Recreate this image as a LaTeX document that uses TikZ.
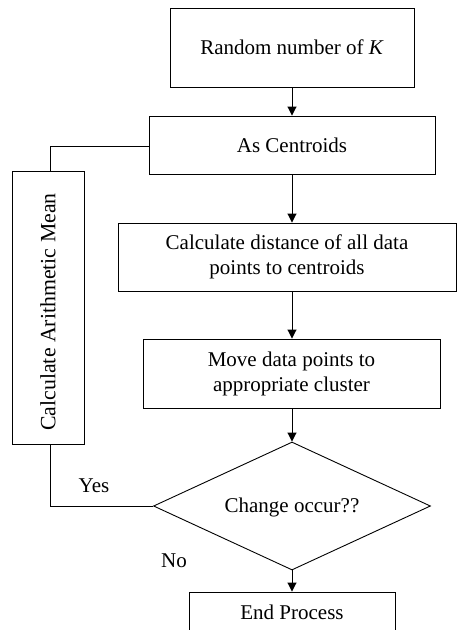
\documentclass[tikz,border=0pt]{standalone}
\usepackage{fontspec}
\setmainfont{Liberation Serif}
\usetikzlibrary{arrows.meta,shapes.geometric}
\begin{document}
\begin{tikzpicture}[x=1pt,y=-1pt,
  every node/.style={font=\fontsize{21}{25}\selectfont},
  box/.style={draw,line width=0.9pt,rectangle,inner sep=0pt,align=center},
  dec/.style={draw,line width=0.9pt,diamond,inner sep=0pt,minimum width=277pt,minimum height=128pt},
  conn/.style={line width=0.9pt},
  arr/.style={line width=0.9pt,-{Triangle[width=9pt,length=9pt]}}]
\useasboundingbox (0,0) rectangle (457,630);
\clip (0,0) rectangle (457,630);
\node[box,minimum width=244pt,minimum height=79pt] (r1) at (292,47.5) {Random number of \textit{K}};
\node[box,minimum width=286pt,minimum height=58pt] (r2) at (292,145) {As Centroids};
\node[box,minimum width=338pt,minimum height=68pt] (r3) at (287,257) {Calculate distance of all data\\points to centroids};
\node[box,minimum width=297pt,minimum height=69pt] (r4) at (291.5,373.5) {Move data points to\\appropriate cluster};
\node[dec] (d) at (292,506) {};
\node at (292,507) {Change occur??};
\node[box,minimum width=206pt,minimum height=40pt] (e) at (292,612) {End Process};
\node[box,minimum width=72pt,minimum height=273pt] (L) at (48,308) {};
\node[rotate=90,font=\fontsize{21.8}{25}\selectfont] (Lt) at (48,312) {Calculate Arithmetic Mean};
\node (yes) at (94,486) {Yes};
\node (no) at (174,561) {No};
\coordinate (lt) at ([xshift=2pt]L.north);
\coordinate (lb) at ([xshift=2pt]L.south);
\draw[arr] (r1.south) -- (r2.north);
\draw[arr] (r2.south) -- (r2.south |- r3.north);
\draw[arr] (r2.south |- r3.south) -- (r2.south |- r4.north);
\draw[arr] (r2.south |- r4.south) -- (d.north);
\draw[arr] (d.south) -- (e.north);
\draw[conn] ([yshift=-1.5pt]r2.west) -| (lt);
\draw[conn] (d.west) -| (lb);
\end{tikzpicture}
\end{document}
